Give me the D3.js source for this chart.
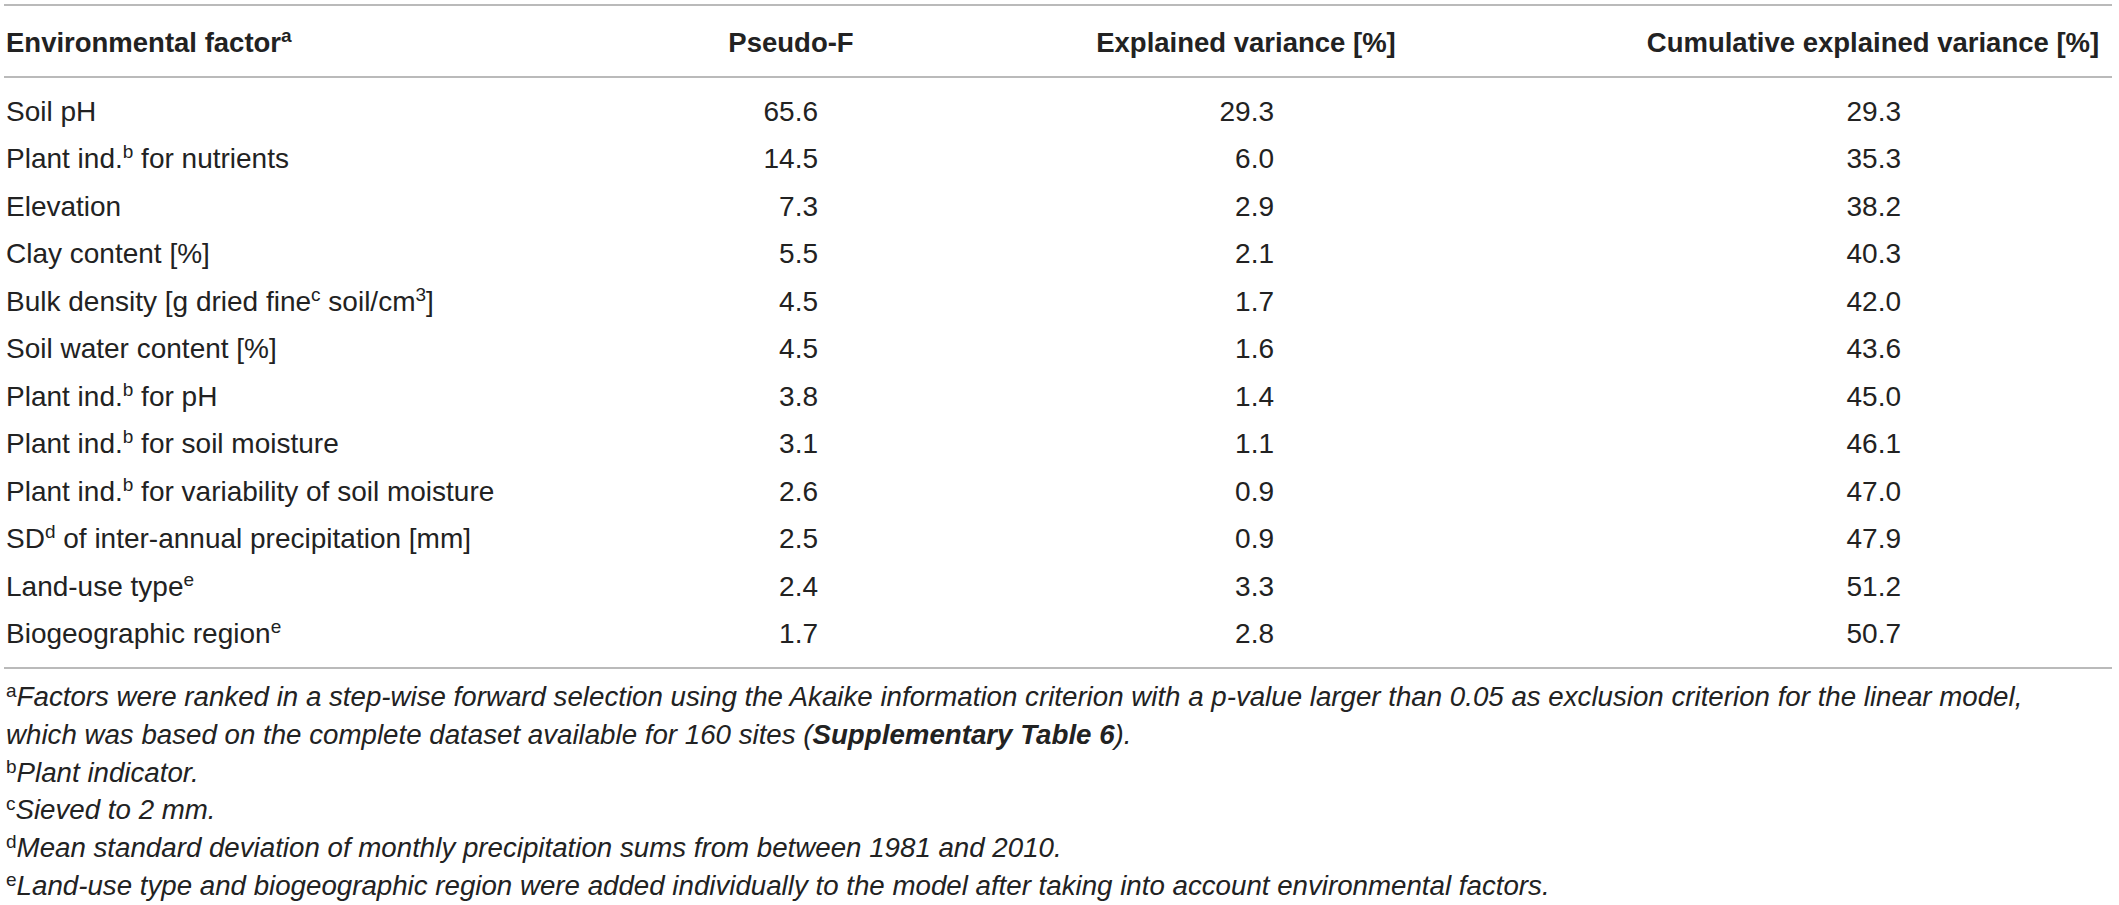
<!DOCTYPE html>
<html>
<head>
<meta charset="utf-8">
<script src="https://cdn.jsdelivr.net/npm/d3@7"></script>
<style>
  html, body { margin: 0; padding: 0; background: #ffffff; }
  svg { display: block; }
  text { font-family: "Liberation Sans", Arial, Helvetica, sans-serif; fill: #222222; }
</style>
</head>
<body>
<svg id="chart"></svg>
<script>
// ---------------- DATA ----------------
const columnHeaders = ["Environmental factor^a", "Pseudo-F", "Explained variance [%]", "Cumulative explained variance [%]"];

const factors = [
  "Soil pH",
  "Plant ind.^b for nutrients",
  "Elevation",
  "Clay content [%]",
  "Bulk density [g dried fine^c soil/cm^3]",
  "Soil water content [%]",
  "Plant ind.^b for pH",
  "Plant ind.^b for soil moisture",
  "Plant ind.^b for variability of soil moisture",
  "SD^d of inter-annual precipitation [mm]",
  "Land-use type^e",
  "Biogeographic region^e"
];

const pseudoF    = [65.6, 14.5, 7.3, 5.5, 4.5, 4.5, 3.8, 3.1, 2.6, 2.5, 2.4, 1.7];
const explained  = [29.3, 6.0, 2.9, 2.1, 1.7, 1.6, 1.4, 1.1, 0.9, 0.9, 3.3, 2.8];
const cumulative = [29.3, 35.3, 38.2, 40.3, 42.0, 43.6, 45.0, 46.1, 47.0, 47.9, 51.2, 50.7];

const footnoteMarks = ["a", "", "b", "c", "d", "e"];
const footnoteTexts = [
  "Factors were ranked in a step-wise forward selection using the Akaike information criterion with a p-value larger than 0.05 as exclusion criterion for the linear model,",
  "which was based on the complete dataset available for 160 sites (**Supplementary Table 6**).",
  "Plant indicator.",
  "Sieved to 2 mm.",
  "Mean standard deviation of monthly precipitation sums from between 1981 and 2010.",
  "Land-use type and biogeographic region were added individually to the model after taking into account environmental factors."
];

// ---------------- LAYOUT ----------------
const W = 2119, H = 905;
const svg = d3.select("#chart").attr("width", W).attr("height", H);

const colX = d3.scaleOrdinal()
  .domain(["factor", "pseudoF", "explained", "cumulative"])
  .range([6, 818, 1274, 1901]);
const headerX = d3.scaleOrdinal()
  .domain(columnHeaders)
  .range([6, 791, 1246, 1873]);
const headerAnchor = ["start", "middle", "middle", "middle"];

const rowY = d3.scalePoint().domain(d3.range(factors.length)).range([121, 643]);
const noteY = d3.scalePoint().domain(d3.range(footnoteTexts.length)).range([706, 895]);

const fmt = d3.format(".1f");

// helper: write text with ^x superscripts (no empty tspans)
function writeSup(sel, str, supSize, shift) {
  const parts = str.split(/\^(\w)/);
  let pendingDy = 0;
  parts.forEach((p, i) => {
    if (p === "") return;
    if (i % 2 === 1) {
      sel.append("tspan").attr("font-size", supSize).attr("dy", -shift - pendingDy).text(p);
      pendingDy = shift;
    } else {
      const t = sel.append("tspan").text(p);
      if (pendingDy) { t.attr("dy", pendingDy); pendingDy = 0; }
    }
  });
}

// rules
const rules = [5, 77, 668];
svg.selectAll("line.rule").data(rules).join("line")
  .attr("class", "rule")
  .attr("x1", 4).attr("x2", 2112)
  .attr("y1", d => d).attr("y2", d => d)
  .attr("stroke", "#a3a3a3").attr("stroke-width", 1.6);

// header
svg.selectAll("text.head").data(columnHeaders).join("text")
  .attr("class", "head")
  .attr("x", d => headerX(d))
  .attr("y", 52)
  .attr("text-anchor", (d, i) => headerAnchor[i])
  .attr("font-weight", "bold")
  .attr("font-size", 27.5)
  .each(function(d) { writeSup(d3.select(this), d, 19, 10); });

// factor labels
svg.selectAll("text.factor").data(factors).join("text")
  .attr("class", "factor")
  .attr("x", colX("factor"))
  .attr("y", (d, i) => rowY(i))
  .attr("font-size", 28)
  .each(function(d) { writeSup(d3.select(this), d, 19, 10); });

// numeric columns
[["pseudoF", pseudoF], ["explained", explained], ["cumulative", cumulative]].forEach(([key, arr]) => {
  svg.selectAll("text.v-" + key).data(arr).join("text")
    .attr("class", "v-" + key)
    .attr("x", colX(key))
    .attr("y", (d, i) => rowY(i))
    .attr("text-anchor", "end")
    .attr("font-size", 28)
    .text(d => fmt(d));
});

// footnotes
footnoteTexts.forEach((t, i) => {
  const txt = svg.append("text")
    .attr("x", 6)
    .attr("y", noteY(i))
    .attr("font-size", 27.7);
  const mark = footnoteMarks[i];
  let pending = 0;
  if (mark) {
    txt.append("tspan").attr("font-size", 19).attr("dy", -9).text(mark);
    pending = 9;
  }
  t.split(/\*\*/).forEach((p, j) => {
    if (p === "") return;
    const ts = txt.append("tspan")
      .attr("font-style", "italic")
      .attr("font-weight", j % 2 === 1 ? "bold" : null)
      .text(p);
    if (pending) { ts.attr("dy", pending); pending = 0; }
  });
});
</script>
</body>
</html>
